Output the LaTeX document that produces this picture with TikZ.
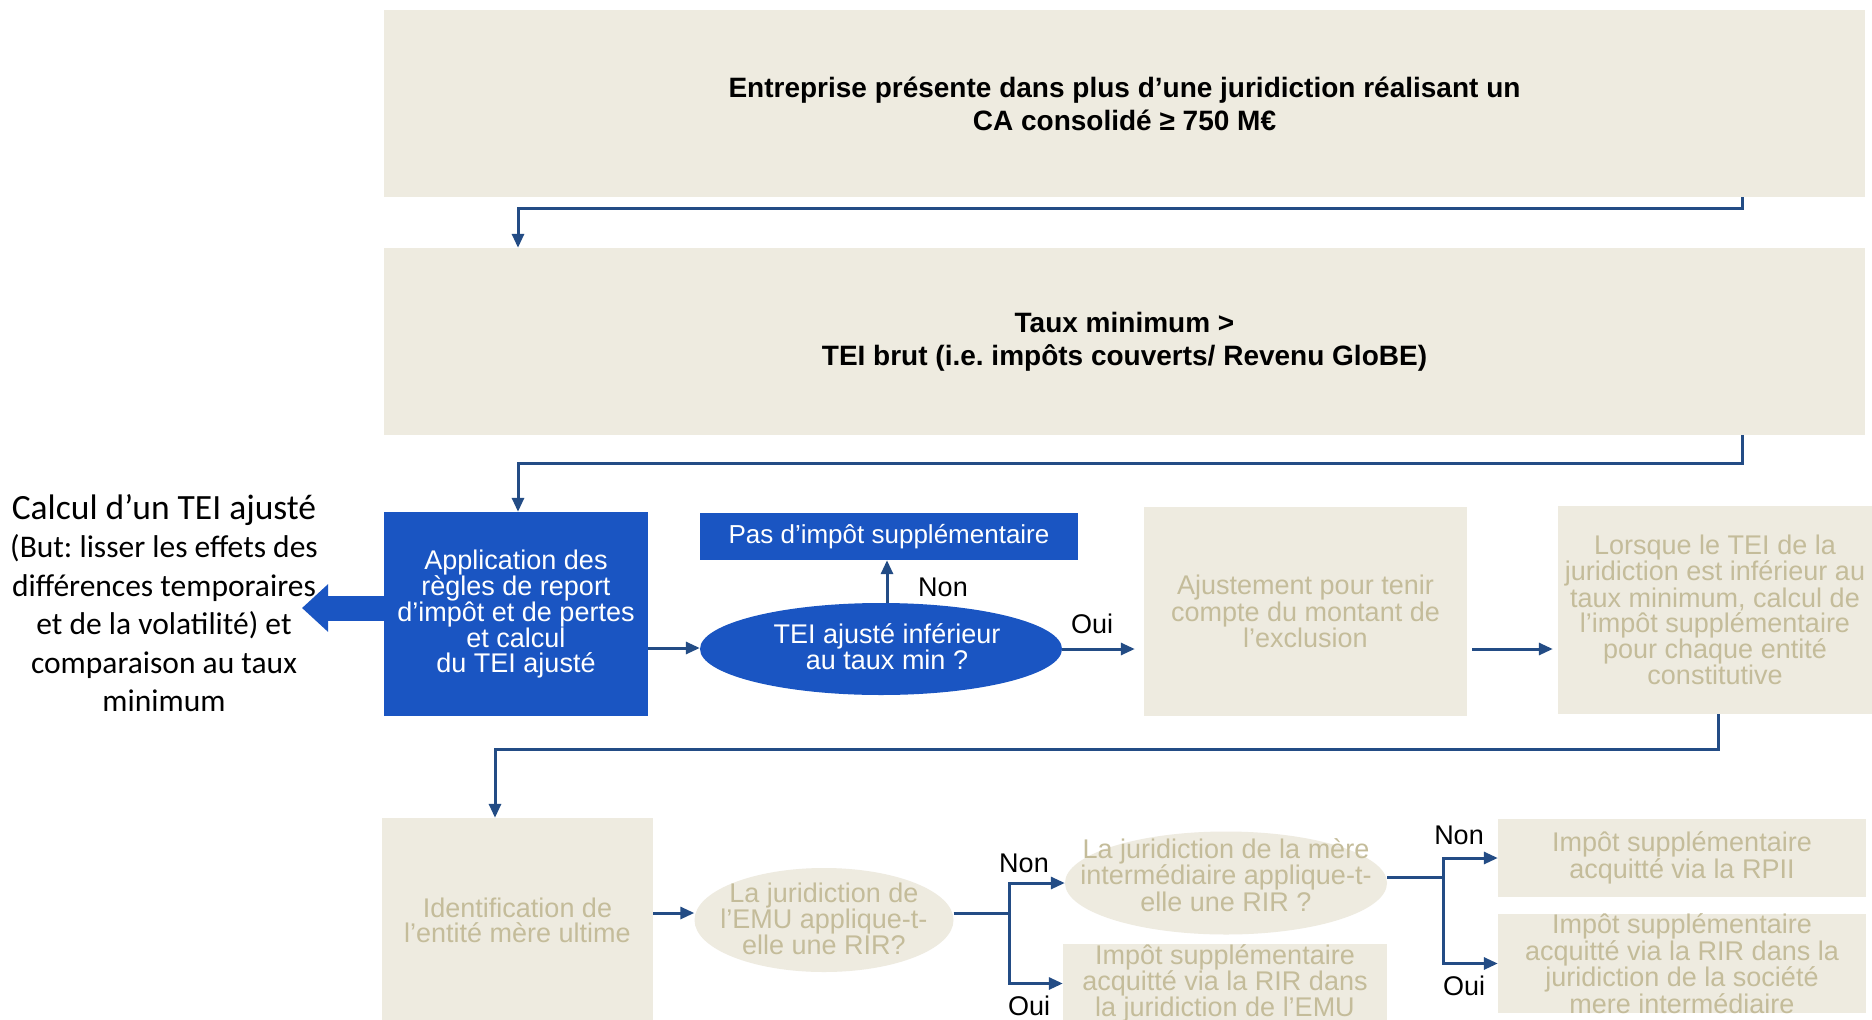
\documentclass[tikz,border=0pt]{standalone}
\usepackage{fontspec}
\setmainfont{Liberation Sans}
\newfontfamily\calib{Carlito}
\usetikzlibrary{arrows.meta,shapes.geometric,calc}
\definecolor{beige}{HTML}{EEEBE0}
\definecolor{tan}{HTML}{C4BC9A}
\definecolor{bluebox}{HTML}{1A55C2}
\definecolor{connc}{HTML}{234C85}
\newcommand\fsz{\fontsize{27}{25}\selectfont}
\tikzset{
  bbox/.style={rectangle, fill=beige, draw=none, inner sep=0pt, text=tan, align=center, font=\fsz},
  bellipse/.style={ellipse, fill=beige, draw=none, inner sep=0pt},
  etext/.style={inner sep=0pt, text=tan, align=center, font=\fsz},
  topbox/.style={rectangle, fill=beige, draw=none, inner sep=0pt, text=black, align=center, font=\fontsize{28}{33}\selectfont\bfseries},
  conn/.style={draw=connc, line width=3pt, -{Triangle[length=14pt,width=12pt]}},
  connl/.style={draw=connc, line width=3pt},
  lbl/.style={inner sep=0pt, text=black, font=\fontsize{27}{27}\selectfont}
}
\begin{document}
\frenchspacing
\begin{tikzpicture}[x=1pt,y=-1pt]
\fill[white] (0,0) rectangle (1872,1020);
\useasboundingbox (0,0) rectangle (1872,1020);

% top boxes
\node[topbox, minimum width=1481pt, minimum height=187pt] (box1) at (1124.5,103.5)
  {Entreprise présente dans plus d’une juridiction réalisant un\\CA consolidé ≥ 750 M€};
\node[topbox, minimum width=1481pt, minimum height=187pt] (box2) at (1124.5,341.5)
  {Taux minimum >\\TEI brut (i.e. impôts couverts/ Revenu GloBE)};

% middle row
\node[rectangle, fill=bluebox, inner sep=0pt, text=white, align=center, font=\fsz,
  minimum width=264pt, minimum height=204pt] (blue) at (516,614)
  {Application des\\règles de report\\d’impôt et de pertes\\et calcul\\du TEI ajusté};
\node[rectangle, fill=bluebox, inner sep=0pt, text=white, font=\fontsize{26}{26}\selectfont,
  minimum width=378pt, minimum height=47pt] (pas) at (889,536.5)
  {Pas d’impôt supplémentaire};
\node[ellipse, fill=bluebox, inner sep=0pt, minimum width=362pt, minimum height=92pt] (tei) at (881,649) {};
\node[etext, text=white] (teit) at (887,647) {TEI ajusté inférieur\\au taux min ?};
\node[bbox, minimum width=323pt, minimum height=209pt] (ajust) at (1305.5,611.5)
  {Ajustement pour tenir\\compte du montant de\\l’exclusion};
\node[bbox, minimum width=314pt, minimum height=208pt] (lorsque) at (1715,610)
  {Lorsque le TEI de la\\juridiction est inférieur au\\taux minimum, calcul de\\l’impôt supplémentaire\\pour chaque entité\\constitutive};

% left text
\node[inner sep=0pt, align=center, font=\calib\fontsize{31.5}{38.4}\selectfont] (calc) at (164,603)
  {{\fontsize{35.5}{38.4}\selectfont Calcul d’un TEI ajusté}\\(But: lisser les effets des\\différences temporaires\\et de la volatilité) et\\comparaison au taux\\minimum};
\coordinate (tip) at (302,608);
\draw[bluebox, line width=25pt, -{Triangle[length=26pt,width=46pt]}] ([yshift=6pt]blue.west) -- (tip);

% bottom row
\node[bbox, minimum width=271pt, minimum height=204pt] (ident) at (517.5,920)
  {Identification de\\l’entité mère ultime};
\node[bellipse, minimum width=259pt, minimum height=104pt] (emu) at (824,920) {};
\node[etext] (emut) at (824,919) {La juridiction de\\l’EMU applique-t-\\elle une RIR?};
\node[bellipse, minimum width=322pt, minimum height=103pt] (mere) at (1226,883) {};
\node[etext] (meret) at (1226,875) {La juridiction de la mère\\intermédiaire applique-t-\\elle une RIR ?};
\node[bbox, minimum width=324pt, minimum height=73pt] (riremu) at (1225,983.5)
  {Impôt supplémentaire\\acquitté via la RIR dans\\la juridiction de l’EMU};
\node[bbox, minimum width=368pt, minimum height=78pt] (rpii) at (1682,858)
  {Impôt supplémentaire\\acquitté via la RPII};
\node[bbox, minimum width=368pt, minimum height=93pt] (rirmere) at (1682,963.5)
  {Impôt supplémentaire\\acquitté via la RIR dans la\\juridiction de la société\\mere intermédiaire};

% connectors
\coordinate (j1) at (1742,208); \coordinate (j1l) at (518,208);
\draw[conn] (box1.south -| j1) -- (j1) -- (j1l) -- (box2.north -| j1l);
\coordinate (j2) at (1742,463); \coordinate (j2l) at (518,463);
\draw[conn] (box2.south -| j2) -- (j2) -- (j2l) -- (blue.north -| j2l);
\draw[conn] ([yshift=-34pt]blue.east) -- ([yshift=-34pt]blue.east -| tei.west);
\draw[conn] (tei.north -| teit) -- (teit |- pas.south);
\draw[conn] (tei.east) -- ([xshift=-9pt]ajust.west |- tei.east);
\draw[conn] ([xshift=5pt]ajust.east |- tei.east) -- ([xshift=-5pt]lorsque.west |- tei.east);
\coordinate (j3) at (1718,749); \coordinate (j3l) at (495,749);
\draw[conn] (lorsque.south -| j3) -- (j3) -- (j3l) -- (ident.north -| j3l);
\draw[conn] ([yshift=7pt]ident.east) -- ([yshift=7pt]emu.west);
\coordinate (s1) at (1009,913);
\draw[connl] ([yshift=7pt]emu.east) -- (s1);
\draw[conn] (s1) |- (mere.west);
\draw[conn] (s1) |- (riremu.west);
\coordinate (s2) at (1443,877);
\draw[connl] ([yshift=6pt]mere.east) -- (s2);
\draw[conn] (s2) |- (rpii.west);
\draw[conn] (s2) |- (rirmere.west);

% labels
\node[lbl] (non1) at (943,587) {Non};
\node[lbl] (oui1) at (1092,624) {Oui};
\node[lbl] (non2) at (1024,863) {Non};
\node[lbl] (oui2) at (1029,1006) {Oui};
\node[lbl] (non3) at (1459,835) {Non};
\node[lbl] (oui3) at (1464,986) {Oui};
\end{tikzpicture}
\end{document}
